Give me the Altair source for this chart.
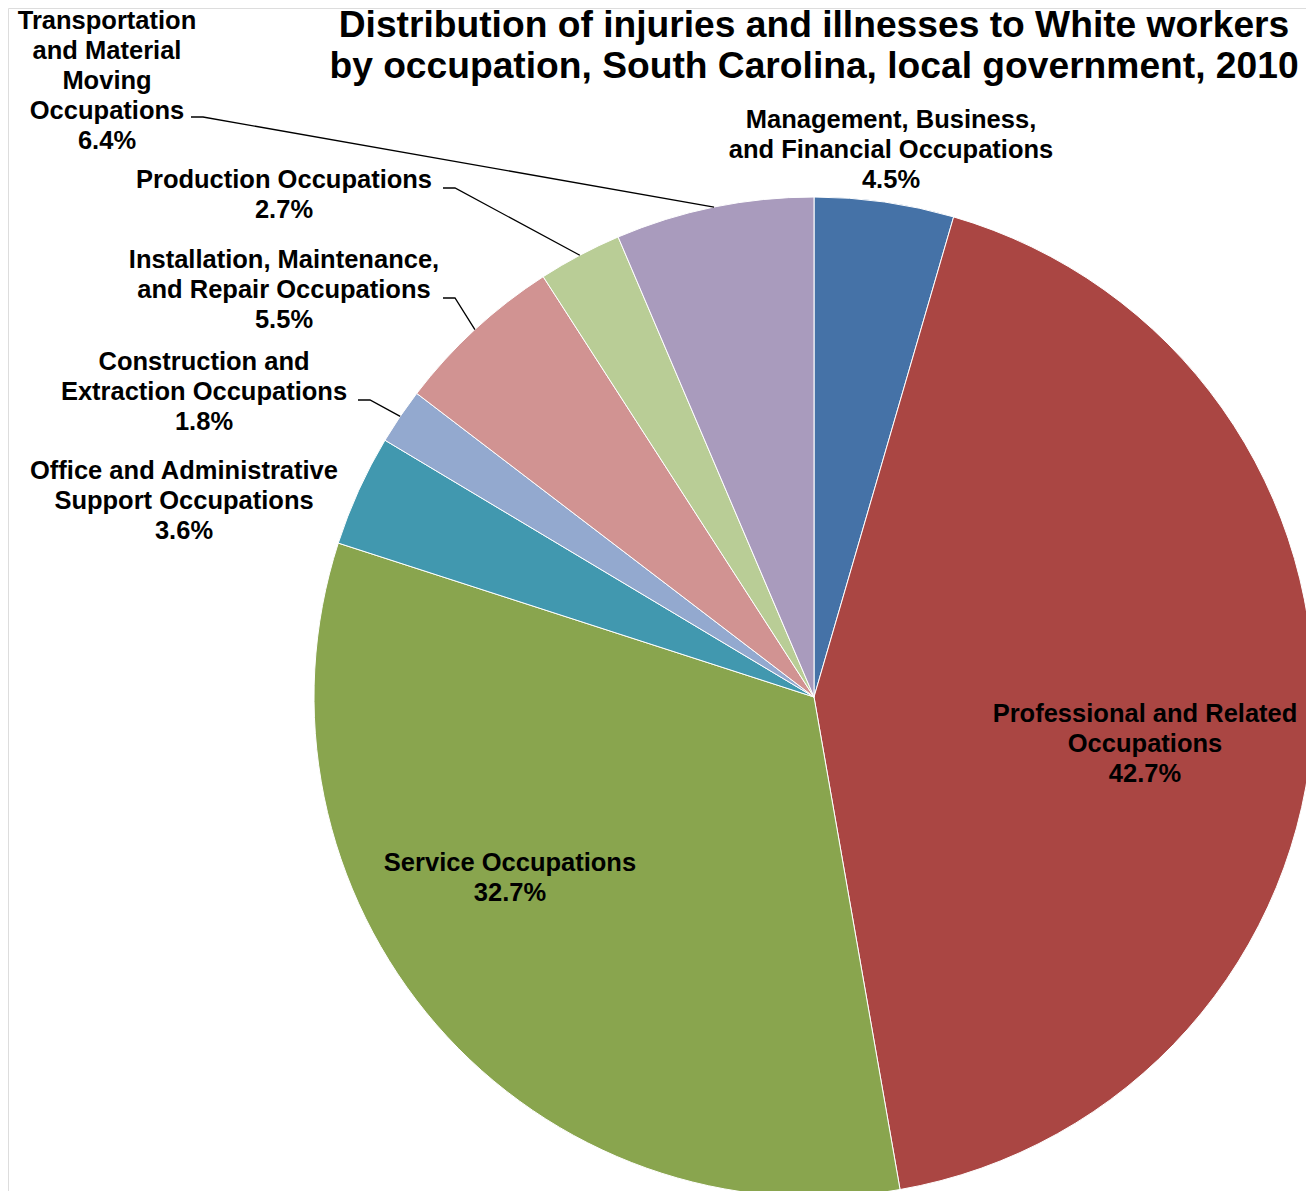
import math
import altair as alt
import pandas as pd

# ---------------- data ----------------
CATEGORIES = [
    "Management, Business, and Financial Occupations",
    "Professional and Related Occupations",
    "Service Occupations",
    "Office and Administrative Support Occupations",
    "Construction and Extraction Occupations",
    "Installation, Maintenance, and Repair Occupations",
    "Production Occupations",
    "Transportation and Material Moving Occupations",
]
SHARES = [4.5, 42.7, 32.7, 3.6, 1.8, 5.5, 2.7, 6.4]
LABEL_LINES = [
    ["Management, Business,", "and Financial Occupations"],
    ["Professional and Related", "Occupations"],
    ["Service Occupations"],
    ["Office and Administrative", "Support Occupations"],
    ["Construction and", "Extraction Occupations"],
    ["Installation, Maintenance,", "and Repair Occupations"],
    ["Production Occupations"],
    ["Transportation", "and Material", "Moving", "Occupations"],
]
COLORS = ["#4572A7", "#AA4643", "#89A54E", "#4198AF",
          "#93A9CF", "#D19392", "#B9CD96", "#A99BBD"]
TITLE_LINES = ["Distribution of injuries and illnesses to White workers",
               "by occupation, South Carolina, local government, 2010"]

# ---------------- layout (chart pixel coords) ----------------
W, H = 1298, 1183
CX, CY, R = 806, 689, 500
# centre x, first-line centre y of each label block
LABEL_POS = [(883, 112), (1137, 706), (502, 855), (176, 463),
             (196, 354), (276, 252), (276, 172), (99, 13)]
# leader start points next to the label text (index -> (x, y)), stub length
LEADER_START = {4: (350, 392), 5: (435, 290), 6: (435, 180), 7: (183, 109)}
STUB = 12

total = sum(SHARES)
rows = []
cum = 0.0
for i, (c, s) in enumerate(zip(CATEGORIES, SHARES)):
    mid = (cum + s / 2) / total * 2 * math.pi
    cum += s
    rows.append(dict(idx=i, category=c, share=s, mid=mid))
df = pd.DataFrame(rows)

labels = pd.DataFrame([
    dict(label="\n".join(LABEL_LINES[i] + [f"{SHARES[i]:.1f}%"]),
         lx=LABEL_POS[i][0], ly=LABEL_POS[i][1])
    for i in range(len(CATEGORIES))
])

lead_rows = []
for i, (sx, sy) in LEADER_START.items():
    mid = df.loc[i, "mid"]
    ex, ey = CX + R * math.sin(mid), CY - R * math.cos(mid)
    for k, (x, y) in enumerate([(sx, sy), (sx + STUB, sy), (ex, ey)]):
        lead_rows.append(dict(id=i, pt=k, x=x, y=y))
leads = pd.DataFrame(lead_rows)

title_df = pd.DataFrame([dict(t="\n".join(TITLE_LINES))])

pie = alt.Chart(df).mark_arc(outerRadius=R, stroke="white", strokeWidth=1).encode(
    theta=alt.Theta("share:Q", stack=True),
    order=alt.Order("idx:Q"),
    color=alt.Color("category:N", scale=alt.Scale(domain=CATEGORIES, range=COLORS), legend=None),
    x=alt.value(CX),
    y=alt.value(CY),
)

lines = alt.Chart(leads).mark_line(color="black", strokeWidth=1.3).encode(
    x=alt.X("x:Q", scale=None, axis=None),
    y=alt.Y("y:Q", scale=None, axis=None),
    detail="id:N",
    order="pt:Q",
)

text = alt.Chart(labels).mark_text(
    font="Liberation Sans", fontWeight="bold", fontSize=25.5, lineHeight=30,
    lineBreak="\n", align="center", baseline="middle", color="black",
).encode(
    x=alt.X("lx:Q", scale=None, axis=None),
    y=alt.Y("ly:Q", scale=None, axis=None),
    text="label:N",
)

title = alt.Chart(title_df).mark_text(
    font="Liberation Sans", fontWeight="bold", fontSize=37.2, lineHeight=41,
    lineBreak="\n", align="center", baseline="alphabetic", color="black",
).encode(
    x=alt.value(CX),
    y=alt.value(29),
    text="t:N",
)

chart = alt.layer(pie, lines, text, title).properties(
    width=W, height=H, autosize=alt.AutoSizeParams(type="none"), padding=0,
).configure_view(stroke=None, strokeWidth=0).configure_axis(
    domain=False, grid=False
).configure(background="transparent")

chart.save("out.html", embed_options={"renderer": "svg", "actions": False})
